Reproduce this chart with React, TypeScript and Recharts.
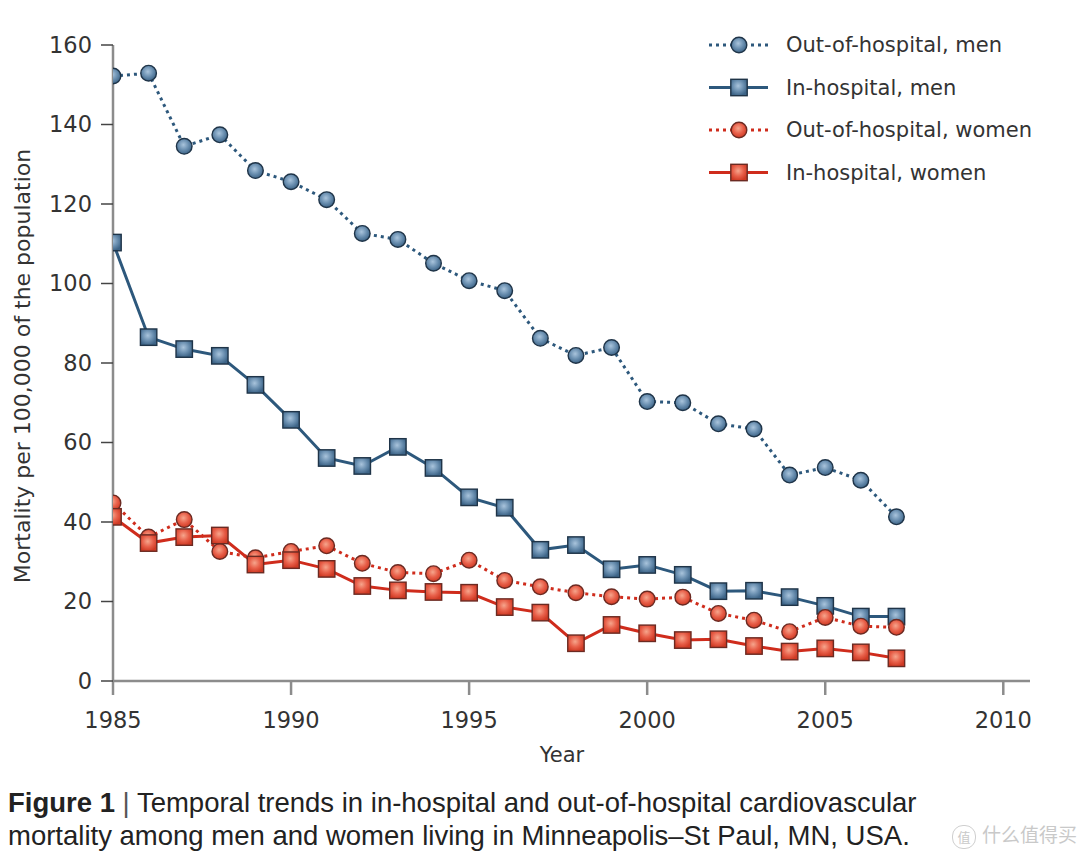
import React from "react"
import { LineChart, Line, XAxis, YAxis } from "recharts"

// years of the Minneapolis–St Paul series
const years = [1985, 1986, 1987, 1988, 1989, 1990, 1991, 1992, 1993, 1994, 1995, 1996, 1997, 1998, 1999, 2000, 2001, 2002, 2003, 2004, 2005, 2006, 2007]

// mortality per 100,000
const outMen = [152.2, 152.9, 134.5, 137.4, 128.4, 125.6, 121.1, 112.6, 111.1, 105.1, 100.7, 98.2, 86.2, 81.9, 83.9, 70.3, 70.0, 64.7, 63.4, 51.8, 53.7, 50.5, 41.3]
const inMen = [110.3, 86.5, 83.5, 81.8, 74.5, 65.7, 56.1, 54.1, 58.9, 53.6, 46.2, 43.6, 33.0, 34.2, 28.1, 29.2, 26.7, 22.6, 22.7, 21.1, 18.9, 16.2, 16.2]
const outWomen = [44.8, 36.2, 40.6, 32.6, 31.0, 32.6, 34.0, 29.6, 27.3, 27.0, 30.4, 25.3, 23.7, 22.2, 21.2, 20.6, 21.1, 17.0, 15.3, 12.4, 16.0, 13.8, 13.5]
const inWomen = [41.3, 34.7, 36.2, 36.6, 29.3, 30.4, 28.2, 23.9, 22.8, 22.4, 22.2, 18.6, 17.2, 9.5, 14.1, 12.0, 10.3, 10.5, 8.8, 7.4, 8.2, 7.2, 5.7]

const xTicks = [1985, 1990, 1995, 2000, 2005, 2010]
const yTicks = [0, 20, 40, 60, 80, 100, 120, 140, 160]

const seriesNames = ["Out-of-hospital, men", "In-hospital, men", "Out-of-hospital, women", "In-hospital, women"]

const data = years.map((year, i) => ({
  year,
  outMen: outMen[i],
  inMen: inMen[i],
  outWomen: outWomen[i],
  inWomen: inWomen[i],
}))

const FONT = "'DejaVu Sans', Verdana, sans-serif"
const TEXT = "#333"
const AXIS = "#8c8c8c"

const BLUE_LINE = "#2d587c"
const RED_LINE = "#cf2c1c"

const series = [
  { key: "outMen", name: seriesNames[0], color: BLUE_LINE, dashed: true, shape: "circle", grad: "gBlue", edge: "#1f3448" },
  { key: "inMen", name: seriesNames[1], color: BLUE_LINE, dashed: false, shape: "square", grad: "gBlue", edge: "#1f3448" },
  { key: "outWomen", name: seriesNames[2], color: RED_LINE, dashed: true, shape: "circle", grad: "gRed", edge: "#6b2a22" },
  { key: "inWomen", name: seriesNames[3], color: RED_LINE, dashed: false, shape: "square", grad: "gRed", edge: "#6b2a22" },
]

function Marker({ cx, cy, shape, grad, edge }: any) {
  if (cx == null || cy == null) return null
  if (shape === "circle") {
    return <circle cx={cx} cy={cy} r={7.8} fill={`url(#${grad})`} stroke={edge} strokeWidth={1.4} />
  }
  return <rect x={cx - 8.2} y={cy - 8.2} width={16.4} height={16.4} fill={`url(#${grad})`} stroke={edge} strokeWidth={1.4} />
}

function Gradients() {
  return (
    <defs>
      <radialGradient id="gBlue" cx="45%" cy="40%" r="60%">
        <stop offset="0%" stopColor="#a9c4dc" />
        <stop offset="55%" stopColor="#6a8fb0" />
        <stop offset="100%" stopColor="#3d6487" />
      </radialGradient>
      <radialGradient id="gRed" cx="45%" cy="40%" r="60%">
        <stop offset="0%" stopColor="#f6a58c" />
        <stop offset="55%" stopColor="#e8604a" />
        <stop offset="100%" stopColor="#cf3a24" />
      </radialGradient>
    </defs>
  )
}

const YLabel = () => (
  <text x={22} y={366} transform="rotate(-90 22 366)" textAnchor="middle" dominantBaseline="central"
    fill={TEXT} fontSize={22} fontFamily={FONT}>
    Mortality per 100,000 of the population
  </text>
)

const XLabel = () => (
  <text x={562} y={755} textAnchor="middle" dominantBaseline="central" fill={TEXT} fontSize={21} fontFamily={FONT}>
    Year
  </text>
)

function LegendBox() {
  return (
    <svg width={360} height={180} style={{ position: "absolute", left: 700, top: 23 }}>
      <Gradients />
      {series.map((s, i) => {
        const y = 22 + i * 42.5
        return (
          <g key={s.key}>
            <line x1={9} x2={68} y1={y} y2={y} stroke={s.color} strokeWidth={3}
              strokeDasharray={s.dashed ? "3 4" : undefined} />
            <Marker cx={39} cy={y} shape={s.shape} grad={s.grad} edge={s.edge} />
            <text x={86} y={y} dominantBaseline="central" fill={TEXT} fontSize={21} fontFamily={FONT}>
              {s.name}
            </text>
          </g>
        )
      })}
    </svg>
  )
}

export default function App() {
  return (
    <div style={{ position: "absolute", left: 0, top: 0, width: 1080, height: 857, background: "#fff", overflow: "hidden" }}>
      <LineChart width={1080} height={780} data={data} margin={{ top: 45, right: 50, bottom: 0, left: 0 }}>
        <Gradients />
        <XAxis
          dataKey="year"
          type="number"
          domain={[1985, 2010.75]}
          ticks={xTicks}
          allowDataOverflow
          height={99}
          tickSize={14}
          tickMargin={17}
          axisLine={{ stroke: AXIS, strokeWidth: 2.5 }}
          tickLine={{ stroke: AXIS, strokeWidth: 2.5 }}
          tick={{ fill: TEXT, fontSize: 22.5, fontFamily: FONT }}
          label={<XLabel />}
        />
        <YAxis
          type="number"
          domain={[0, 160]}
          ticks={yTicks}
          width={113}
          tickSize={12}
          tickMargin={9}
          axisLine={{ stroke: AXIS, strokeWidth: 2.5 }}
          tickLine={{ stroke: "#444", strokeWidth: 1.5 }}
          tick={{ fill: TEXT, fontSize: 22.5, fontFamily: FONT }}
          label={<YLabel />}
        />
        {series.map((s) => (
          <Line
            key={s.key}
            type="linear"
            dataKey={s.key}
            name={s.name}
            stroke={s.color}
            strokeWidth={3}
            strokeDasharray={s.dashed ? "3 4" : undefined}
            dot={(p: any) => <Marker key={`${s.key}-${p.index}`} cx={p.cx} cy={p.cy} shape={s.shape} grad={s.grad} edge={s.edge} />}
            activeDot={false}
            isAnimationActive={false}
          />
        ))}
      </LineChart>
      <LegendBox />
      <div style={{ position: "absolute", left: 8, top: 786, fontFamily: "'Liberation Sans', Arial, sans-serif", fontSize: 27.5, lineHeight: "33px", color: "#222", whiteSpace: "nowrap" }}>
        <div>
          <b>Figure 1</b> <span style={{ color: "#555" }}>|</span> Temporal trends in in-hospital and out-of-hospital cardiovascular
        </div>
        <div>mortality among men and women living in Minneapolis–St Paul, MN, USA.</div>
      </div>
      <div style={{ position: "absolute", left: 952, top: 820, fontFamily: "'Noto Sans CJK SC', sans-serif", fontSize: 19, color: "#c9c9c9" }}>
        <span style={{ display: "inline-block", width: 22, height: 22, lineHeight: "22px", borderRadius: 11, border: "1.5px solid #cfcfcf", textAlign: "center", fontSize: 13, marginRight: 6, verticalAlign: "middle" }}>值</span>
        什么值得买
      </div>
    </div>
  )
}
